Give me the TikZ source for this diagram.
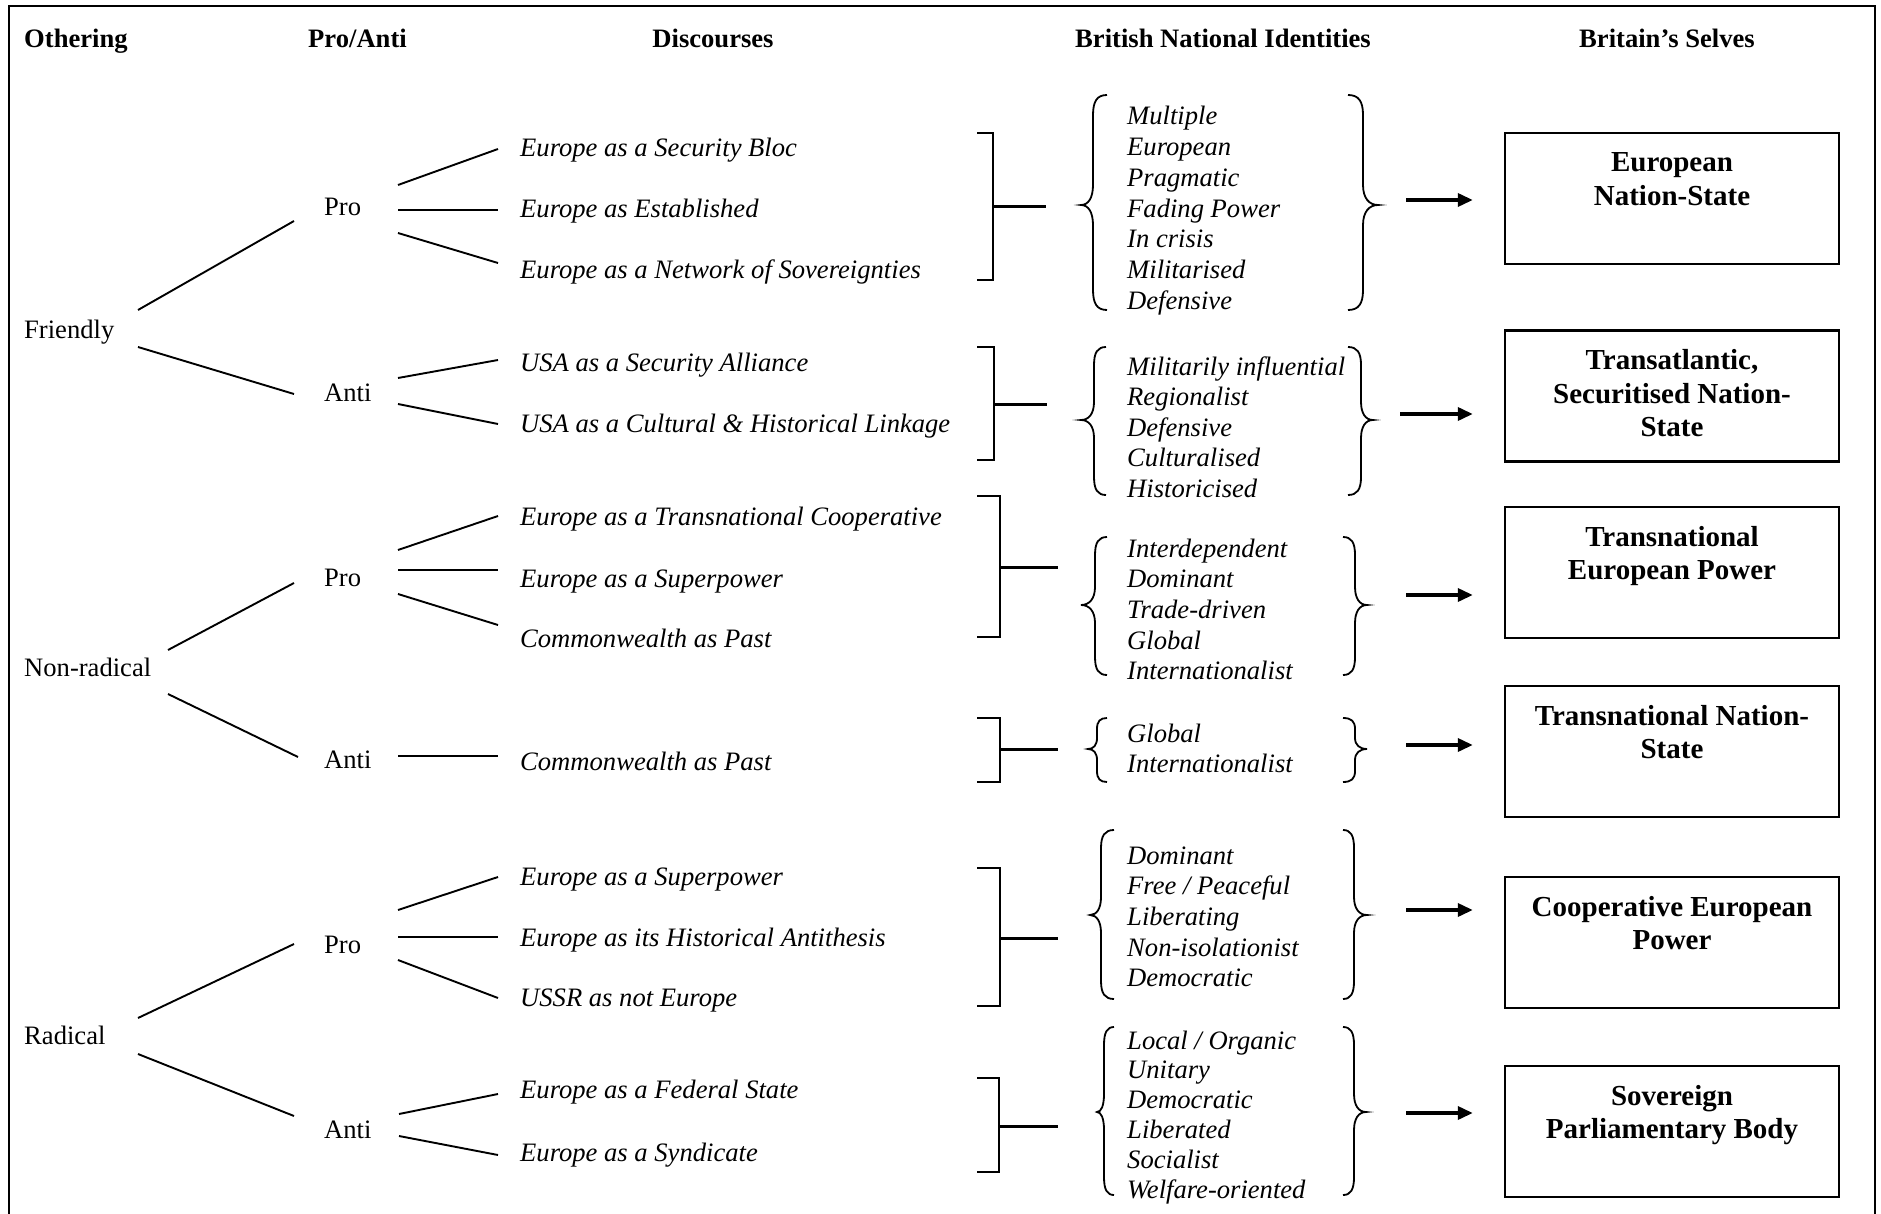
\documentclass[tikz,border=0pt]{standalone}
\usepackage{fontspec}
\setmainfont{Liberation Serif}
\usetikzlibrary{arrows.meta}

% left curly brace: x of stem, top, tip, bottom, curl width, tip depth, bend
\newcommand\leftcurl[7]{%
  \draw[curl] (#1+#5,#2) .. controls (#1+0.3*#5,#2) and (#1,#2+0.3*#7) .. (#1,#2+#7)
    -- (#1,#3-#7) .. controls (#1,#3-0.35*#7) and (#1-0.4*#6,#3) .. (#1-#6,#3)
    .. controls (#1-0.4*#6,#3) and (#1,#3+0.35*#7) .. (#1,#3+#7)
    -- (#1,#4-#7) .. controls (#1,#4-0.3*#7) and (#1+0.3*#5,#4) .. (#1+#5,#4);}
% right curly brace, same arguments
\newcommand\rightcurl[7]{%
  \draw[curl] (#1-#5,#2) .. controls (#1-0.3*#5,#2) and (#1,#2+0.3*#7) .. (#1,#2+#7)
    -- (#1,#3-#7) .. controls (#1,#3-0.35*#7) and (#1+0.4*#6,#3) .. (#1+#6,#3)
    .. controls (#1+0.4*#6,#3) and (#1,#3+0.35*#7) .. (#1,#3+#7)
    -- (#1,#4-#7) .. controls (#1,#4-0.3*#7) and (#1-0.3*#5,#4) .. (#1-#5,#4);}
% square bracket with its joining stroke: stem x, top, middle, bottom, stroke end
\newcommand\joinbracket[5]{%
  \draw[bracket] (977,#2) -- (#1,#2) -- (#1,#4) -- (977,#4);
  \draw[joiner] (#1,#3) -- (#5,#3);}

\begin{document}
\begin{tikzpicture}[x=1pt,y=-1pt,
  hdr/.style={font=\bfseries\fontsize{26.6}{30}\selectfont, anchor=base, inner sep=0pt},
  lbl/.style={font=\fontsize{26.6}{30}\selectfont, anchor=base west, inner sep=0pt},
  disc/.style={font=\itshape\fontsize{26.6}{30}\selectfont, anchor=base west, inner sep=0pt},
  ident/.style={font=\itshape\fontsize{26.6}{30}\selectfont, anchor=base west, inner sep=0pt},
  selfbox/.style={draw, line width=2.4pt, inner sep=0pt, minimum width=334pt, minimum height=131pt,
    font=\bfseries\fontsize{29}{33.5}\selectfont},
  branch/.style={line width=1.9pt},
  curl/.style={line width=1.8pt},
  bracket/.style={line width=2pt},
  joiner/.style={line width=3pt},
  lead/.style={line width=3.4pt, -{Triangle[length=15pt,width=13pt]}, shorten >=31pt},
  frame/.style={line width=2.6pt}
]
\useasboundingbox (0,0) rectangle (1881,1214);
\draw[frame] (9,1214) -- (9,6) -- (1875,6) -- (1875,1214);

% column headings
\node[hdr, anchor=base west] (hOther) at (24,48) {Othering};
\node[hdr] (hPro) at (357.5,48) {Pro/Anti};
\node[hdr] (hDisc) at (713,48) {Discourses};
\node[hdr] (hIdent) at (1223,48) {British National Identities};
\node[hdr] (hSelf) at (1667,48) {Britain’s Selves};

% othering
\node[lbl] (friendly) at (24,339) {Friendly};
\node[lbl] (nonradical) at (24,676) {Non-radical};
\node[lbl] (radical) at (24,1044) {Radical};

% pro / anti
\node[lbl] (pro1) at (324,216) {Pro};
\node[lbl] (anti1) at (324,401) {Anti};
\node[lbl] (pro2) at (324,586) {Pro};
\node[lbl] (anti2) at (324,768) {Anti};
\node[lbl] (pro3) at (324,953) {Pro};
\node[lbl] (anti3) at (324,1138) {Anti};

% discourses
\node[disc] (d1) at (520,157) {Europe as a Security Bloc};
\node[disc] (d2) at (520,218) {Europe as Established};
\node[disc] (d3) at (520,279) {Europe as a Network of Sovereignties};
\node[disc] (d4) at (520,371) {USA as a Security Alliance};
\node[disc] (d5) at (520,432) {USA as a Cultural \& Historical Linkage};
\node[disc] (d6) at (520,525) {Europe as a Transnational Cooperative};
\node[disc] (d7) at (520,587) {Europe as a Superpower};
\node[disc] (d8) at (520,647) {Commonwealth as Past};
\node[disc] (d9) at (520,770) {Commonwealth as Past};
\node[disc] (d10) at (520,885) {Europe as a Superpower};
\node[disc] (d11) at (520,946) {Europe as its Historical Antithesis};
\node[disc] (d12) at (520,1006) {USSR as not Europe};
\node[disc] (d13) at (520,1098) {Europe as a Federal State};
\node[disc] (d14) at (520,1161) {Europe as a Syndicate};

% othering -> pro / anti
\draw[branch] ([shift={(114,-29)}]friendly.base west) -- ([shift={(-30,5)}]pro1.base west);
\draw[branch] ([shift={(114,8)}]friendly.base west) -- ([shift={(-30,-7)}]anti1.base west);
\draw[branch] ([shift={(144,-26)}]nonradical.base west) -- ([shift={(-30,-3)}]pro2.base west);
\draw[branch] ([shift={(144,18)}]nonradical.base west) -- ([shift={(-26,-11)}]anti2.base west);
\draw[branch] ([shift={(114,-26)}]radical.base west) -- ([shift={(-30,-9)}]pro3.base west);
\draw[branch] ([shift={(114,10)}]radical.base west) -- ([shift={(-30,-22)}]anti3.base west);

% pro / anti -> discourses
\draw[branch] ([shift={(74,-31)}]pro1.base west) -- ([shift={(-22,-8)}]d1.base west);
\draw[branch] ([shift={(74,-6)}]pro1.base west) -- ([shift={(-22,-8)}]d2.base west);
\draw[branch] ([shift={(74,17)}]pro1.base west) -- ([shift={(-22,-16)}]d3.base west);
\draw[branch] ([shift={(74,-23)}]anti1.base west) -- ([shift={(-22,-11)}]d4.base west);
\draw[branch] ([shift={(74,3)}]anti1.base west) -- ([shift={(-22,-8)}]d5.base west);
\draw[branch] ([shift={(74,-36)}]pro2.base west) -- ([shift={(-22,-9)}]d6.base west);
\draw[branch] ([shift={(74,-16)}]pro2.base west) -- ([shift={(-22,-17)}]d7.base west);
\draw[branch] ([shift={(74,8)}]pro2.base west) -- ([shift={(-22,-22)}]d8.base west);
\draw[branch] ([shift={(74,-12)}]anti2.base west) -- ([shift={(-22,-14)}]d9.base west);
\draw[branch] ([shift={(74,-43)}]pro3.base west) -- ([shift={(-22,-8)}]d10.base west);
\draw[branch] ([shift={(74,-16)}]pro3.base west) -- ([shift={(-22,-9)}]d11.base west);
\draw[branch] ([shift={(74,7)}]pro3.base west) -- ([shift={(-22,-8)}]d12.base west);
\draw[branch] ([shift={(75,-24)}]anti3.base west) -- ([shift={(-22,-4)}]d13.base west);
\draw[branch] ([shift={(75,-2)}]anti3.base west) -- ([shift={(-22,-6)}]d14.base west);

% brackets gathering the discourses
\joinbracket{993}{133}{207}{280}{1046}
\joinbracket{994}{347}{404}{460}{1047}
\joinbracket{1000}{496}{567}{637}{1058}
\joinbracket{1000}{718}{749}{782}{1058}
\joinbracket{1000}{868}{938}{1006}{1058}
\joinbracket{999}{1078}{1126}{1172}{1058}

% identities
\foreach \t [count=\i] in {Multiple, European, Pragmatic, Fading Power, In crisis, Militarised, Defensive}
  \node[ident] (ia-\i) at (1127,{125+30.7*(\i-1)}) {\t};
\foreach \t [count=\i] in {Militarily influential, Regionalist, Defensive, Culturalised, Historicised}
  \node[ident] (ib-\i) at (1127,{375+30.5*(\i-1)}) {\t};
\foreach \t [count=\i] in {Interdependent, Dominant, Trade-driven, Global, Internationalist}
  \node[ident] (ic-\i) at (1127,{557+30.7*(\i-1)}) {\t};
\foreach \t [count=\i] in {Global, Internationalist}
  \node[ident] (id-\i) at (1127,{742+30.5*(\i-1)}) {\t};
\foreach \t [count=\i] in {Dominant, {Free / Peaceful}, Liberating, Non-isolationist, Democratic}
  \node[ident] (ie-\i) at (1127,{864+30.7*(\i-1)}) {\t};
\foreach \t [count=\i] in {{Local / Organic}, Unitary, Democratic, Liberated, Socialist, Welfare-oriented}
  \node[ident] (if-\i) at (1127,{1049+29.8*(\i-1)}) {\t};

% braces round the identities
\leftcurl{1093}{95}{205}{310}{14}{12}{20}
\rightcurl{1363}{95}{205}{310}{15}{15}{20}
\leftcurl{1094}{347}{420}{495}{12}{13}{18}
\rightcurl{1361}{347}{420}{495}{13}{12}{18}
\leftcurl{1095}{537}{605}{675}{12}{14}{18}
\rightcurl{1355}{537}{605}{675}{12}{12}{18}
\leftcurl{1097}{718}{749}{782}{10}{9}{11}
\rightcurl{1355}{718}{749}{782}{12}{12}{11}
\leftcurl{1101}{830}{915}{999}{13}{11}{18}
\rightcurl{1354}{830}{915}{999}{11}{13}{18}
\leftcurl{1104}{1027}{1112}{1195}{10}{7}{18}
\rightcurl{1354}{1027}{1112}{1195}{11}{12}{18}

% Britain's selves
\node[selfbox] (s1) at (1672,198.5) {\parbox[c][131pt][t]{334pt}{\centering\rule{0pt}{39pt}European\\Nation-State}};
\node[selfbox] (s2) at (1672,396) {\parbox[c][131pt][t]{334pt}{\centering\rule{0pt}{39pt}Transatlantic,\\Securitised Nation-\\State}};
\node[selfbox] (s3) at (1672,572.5) {\parbox[c][131pt][t]{334pt}{\centering\rule{0pt}{39pt}Transnational\\European Power}};
\node[selfbox] (s4) at (1672,751.5) {\parbox[c][131pt][t]{334pt}{\centering\rule{0pt}{39pt}Transnational Nation-\\State}};
\node[selfbox] (s5) at (1672,942.5) {\parbox[c][131pt][t]{334pt}{\centering\rule{0pt}{39pt}Cooperative European\\Power}};
\node[selfbox] (s6) at (1672,1131.5) {\parbox[c][131pt][t]{334pt}{\centering\rule{0pt}{39pt}Sovereign\\Parliamentary Body}};

% arrows to the selves
\coordinate (a1) at (1406,200);
\coordinate (a2) at (1400,414);
\coordinate (a3) at (1406,595);
\coordinate (a4) at (1406,745);
\coordinate (a5) at (1406,910);
\coordinate (a6) at (1406,1113);
\draw[lead] (a1) -- (a1 -| s1.west);
\draw[lead] (a2) -- (a2 -| s2.west);
\draw[lead] (a3) -- (a3 -| s3.west);
\draw[lead] (a4) -- (a4 -| s4.west);
\draw[lead] (a5) -- (a5 -| s5.west);
\draw[lead] (a6) -- (a6 -| s6.west);
\end{tikzpicture}
\end{document}
